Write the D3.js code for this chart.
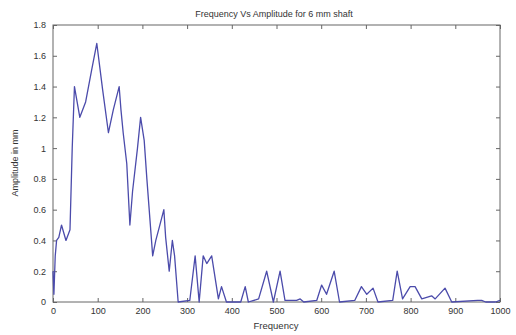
<!DOCTYPE html>
<html>
<head>
<meta charset="utf-8">
<script src="https://cdn.jsdelivr.net/npm/d3@7"></script>
<style>
  html, body { margin: 0; padding: 0; background: #fff; }
  svg text { font-family: "Liberation Sans", Arial, sans-serif; fill: #333; }
</style>
</head>
<body>
<svg id="chart" width="516" height="335"></svg>
<script>
// Spectrum of the 6 mm shaft: frequency samples and measured amplitude (mm)
const frequency = [0, 2, 5, 8, 13, 19, 29, 38, 43, 48, 60, 73, 86, 98, 111, 124, 135, 148, 152, 157,
  165, 172, 178, 189, 196, 204, 210, 223, 230, 239, 248, 252, 260, 267, 272, 280, 306, 318, 327, 336,
  344, 355, 370, 377, 388, 420, 430, 437, 460, 478, 493, 508, 519, 545, 553, 561, 590, 601, 612, 629,
  641, 675, 690, 702, 716, 727, 760, 770, 782, 799, 810, 825, 847, 855, 877, 892, 950, 959, 968, 990, 1000];
const amplitude = [0.2, 0.05, 0.3, 0.4, 0.42, 0.5, 0.4, 0.47, 1.0, 1.4, 1.2, 1.3, 1.5, 1.68, 1.38, 1.1, 1.25, 1.4, 1.25, 1.1,
  0.9, 0.5, 0.72, 1.0, 1.2, 1.05, 0.8, 0.3, 0.4, 0.5, 0.6, 0.42, 0.2, 0.4, 0.3, 0.0, 0.01, 0.3, 0.0, 0.3,
  0.25, 0.3, 0.02, 0.1, 0.0, 0.0, 0.1, 0.0, 0.02, 0.2, 0.0, 0.2, 0.01, 0.01, 0.02, 0.0, 0.01, 0.11, 0.05, 0.2,
  0.0, 0.01, 0.1, 0.05, 0.09, 0.0, 0.01, 0.2, 0.02, 0.1, 0.1, 0.02, 0.04, 0.02, 0.09, 0.0, 0.01, 0.01, 0.0, 0.0, 0.01];
const xTicks = [0, 100, 200, 300, 400, 500, 600, 700, 800, 900, 1000];
const yTicks = [0, 0.2, 0.4, 0.6, 0.8, 1, 1.2, 1.4, 1.6, 1.8];

const svg = d3.select("#chart");
const plotLeft = 53, plotRight = 500, plotTop = 25, plotBottom = 302;

const x = d3.scaleLinear().domain([0, 1000]).range([plotLeft, plotRight]);
const y = d3.scaleLinear().domain([0, 1.8]).range([plotBottom, plotTop]);

const axisColor = "#666";
const tickLen = 4;

// Frame
svg.append("rect")
  .attr("x", plotLeft).attr("y", plotTop)
  .attr("width", plotRight - plotLeft).attr("height", plotBottom - plotTop)
  .attr("fill", "none").attr("stroke", axisColor).attr("stroke-width", 1);

// Inward ticks on all four sides
const fmt = d => String(d);
const gx = svg.append("g").attr("transform", `translate(0,${plotBottom})`)
  .call(d3.axisBottom(x).tickValues(xTicks).tickSize(-tickLen).tickPadding(6).tickFormat(fmt));
const gxt = svg.append("g").attr("transform", `translate(0,${plotTop})`)
  .call(d3.axisTop(x).tickValues(xTicks).tickSize(-tickLen).tickFormat(""));
const gy = svg.append("g").attr("transform", `translate(${plotLeft},0)`)
  .call(d3.axisLeft(y).tickValues(yTicks).tickSize(-tickLen).tickPadding(7).tickFormat(fmt));
const gyr = svg.append("g").attr("transform", `translate(${plotRight},0)`)
  .call(d3.axisRight(y).tickValues(yTicks).tickSize(-tickLen).tickFormat(""));

[gx, gxt, gy, gyr].forEach(g => {
  g.select(".domain").remove();
  g.selectAll(".tick line").attr("stroke", axisColor);
  g.selectAll("text").style("font-size", "9px").attr("fill", "#333");
});

// Spectrum line
const pts = frequency.map((f, i) => [f, amplitude[i]]);
svg.append("path")
  .datum(pts)
  .attr("fill", "none")
  .attr("stroke", "#4b4bab")
  .attr("stroke-width", 1.3)
  .attr("stroke-linejoin", "round")
  .attr("d", d3.line().x(d => x(d[0])).y(d => y(d[1])));

// Title and axis labels
svg.append("text").attr("x", 274).attr("y", 17).attr("text-anchor", "middle")
  .style("font-size", "9px").text("Frequency Vs Amplitude for 6 mm  shaft");
svg.append("text").attr("x", 276).attr("y", 329).attr("text-anchor", "middle")
  .style("font-size", "9.5px").text("Frequency");
svg.append("text").attr("transform", "translate(18,163) rotate(-90)").attr("text-anchor", "middle")
  .style("font-size", "9px").text("Amplitude  in mm");
</script>
</body>
</html>
